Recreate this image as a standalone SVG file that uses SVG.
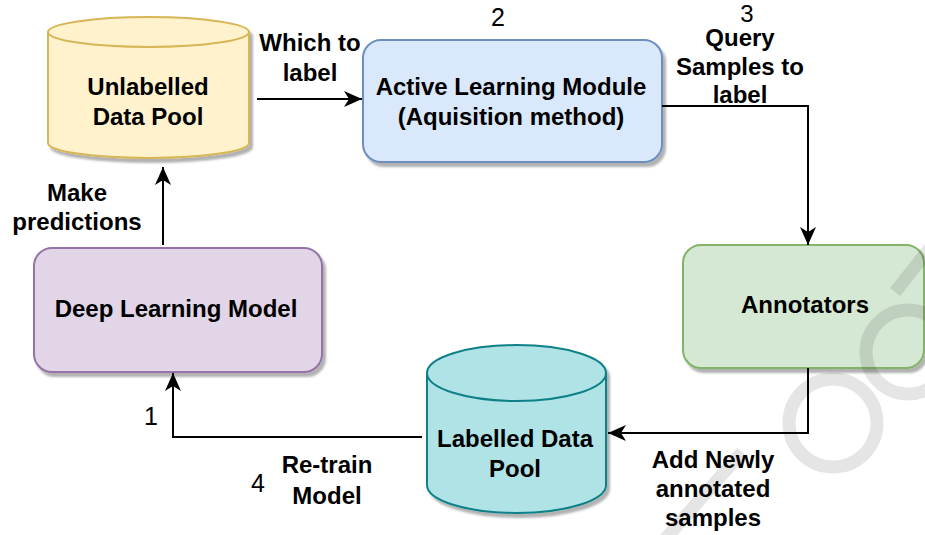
<svg xmlns="http://www.w3.org/2000/svg" width="925" height="535" viewBox="0 0 925 535">
<style>
.t{font-family:"Liberation Sans",Arial,Helvetica,sans-serif;font-size:24px;font-weight:bold;fill:#000;text-anchor:middle}
.n{font-family:"Liberation Sans",Arial,Helvetica,sans-serif;font-size:25px;fill:#000;text-anchor:middle}
.c{fill:none;stroke:#000;stroke-width:2}
.wm{fill:none;stroke:#000;stroke-opacity:0.1;stroke-width:13}
</style>
<defs>
<filter id="sh" x="-10%" y="-10%" width="130%" height="130%">
<feDropShadow dx="3" dy="4" stdDeviation="1.2" flood-color="#000" flood-opacity="0.3"/>
</filter>
<marker id="ar" markerUnits="userSpaceOnUse" markerWidth="20" markerHeight="20" viewBox="0 0 20 20" refX="19" refY="10" orient="auto">
<path d="M19,10 L1,2 L6,10 L1,18 Z" fill="#000"/>
</marker>
</defs>
<rect width="925" height="535" fill="#fff"/>
<g id="unlabelled">
<path d="M48,32 L48,143 A100.5,15 0 0 0 249,143 L249,32 A100.5,15 0 0 0 48,32 Z" fill="#fff2cc" stroke="#d6b656" stroke-width="2" filter="url(#sh)"/>
<path d="M48,32 A100.5,15 0 0 0 249,32" fill="none" stroke="#d6b656" stroke-width="2"/>
<text class="t" x="148" y="95">Unlabelled</text>
<text class="t" x="148" y="125">Data Pool</text>
</g>
<g id="active">
<rect x="363" y="40" width="299" height="122" rx="18" fill="#dae8fc" stroke="#6c8ebf" stroke-width="2" filter="url(#sh)"/>
<text class="t" x="511" y="95">Active Learning Module</text>
<text class="t" x="511" y="125">(Aquisition method)</text>
</g>
<g id="annotators">
<rect x="683" y="245" width="241" height="123" rx="18" fill="#d5e8d4" stroke="#82b366" stroke-width="2" filter="url(#sh)"/>
<text class="t" x="805" y="313">Annotators</text>
</g>
<g id="deep">
<rect x="34" y="248" width="288" height="124" rx="18" fill="#e1d5e7" stroke="#9673a6" stroke-width="2" filter="url(#sh)"/>
<text class="t" x="176" y="317">Deep Learning Model</text>
</g>
<g id="labelled">
<path d="M427,373 L427,485 A89.5,28 0 0 0 606,485 L606,373 A89.5,28 0 0 0 427,373 Z" fill="#b0e3e6" stroke="#0e8088" stroke-width="2" filter="url(#sh)"/>
<path d="M427,373 A89.5,28 0 0 0 606,373" fill="none" stroke="#0e8088" stroke-width="2"/>
<text class="t" x="515" y="447">Labelled Data</text>
<text class="t" x="515" y="477">Pool</text>
</g>
<g id="connectors">
<path class="c" d="M257,99 L362,99" marker-end="url(#ar)"/>
<path class="c" d="M662,106 L808,106 L808,245" marker-end="url(#ar)"/>
<path class="c" d="M808,368 L808,433 L608,433" marker-end="url(#ar)"/>
<path class="c" d="M422,437 L173,437 L173,373" marker-end="url(#ar)"/>
<path class="c" d="M163,245 L163,167" marker-end="url(#ar)"/>
</g>
<g id="labels">
<text class="t" x="310" y="51">Which to</text>
<text class="t" x="310" y="81">label</text>
<text class="t" x="740" y="46">Query</text>
<text class="t" x="740" y="75">Samples to</text>
<text class="t" x="740" y="103">label</text>
<text class="t" x="713" y="468">Add Newly</text>
<text class="t" x="713" y="497">annotated</text>
<text class="t" x="713" y="526">samples</text>
<text class="t" x="327" y="473">Re-train</text>
<text class="t" x="327" y="504">Model</text>
<text class="t" x="77" y="201">Make</text>
<text class="t" x="77" y="230">predictions</text>
<text class="n" x="498" y="26">2</text>
<text class="n" x="747" y="22" style="font-size:24px">3</text>
<text class="n" x="151" y="425">1</text>
<text class="n" x="258" y="492">4</text>
</g>
<g id="watermark">
<line class="wm" x1="660" y1="545" x2="742" y2="452"/>
<circle class="wm" cx="833" cy="423" r="44"/>
<circle class="wm" cx="908" cy="352" r="42"/>
<line class="wm" x1="895" y1="292" x2="930" y2="248"/>
</g>
</svg>
